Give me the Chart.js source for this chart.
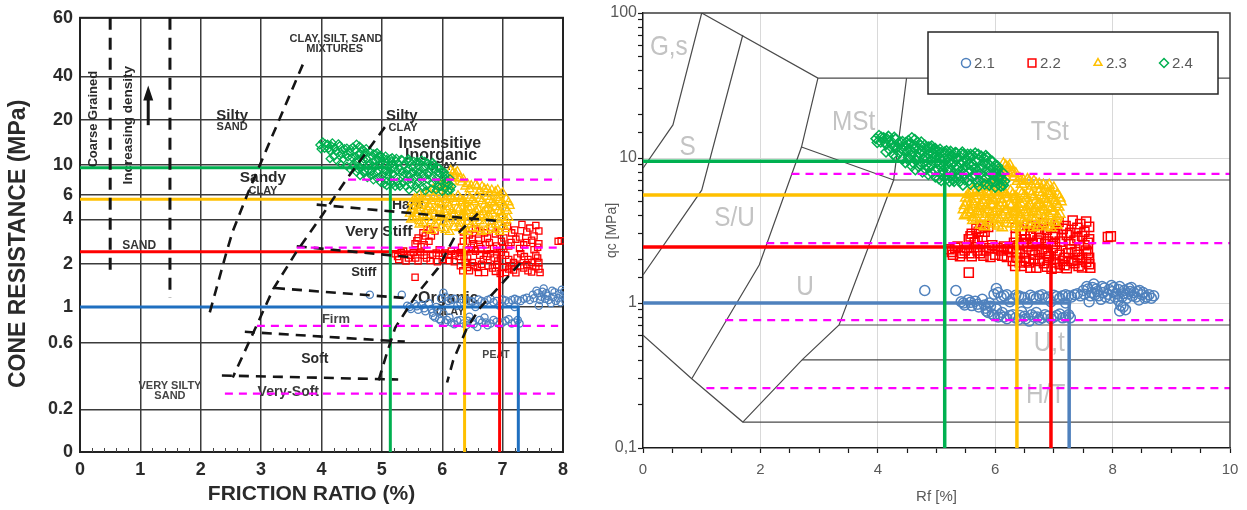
<!DOCTYPE html>
<html lang="en">
<head>
<meta charset="utf-8">
<title>CPT classification – friction ratio vs cone resistance</title>
<script src="https://cdn.jsdelivr.net/npm/chart.js@4.4.1/dist/chart.umd.min.js"></script>
<style>
  html, body { margin: 0; padding: 0; background: #ffffff; }
  #stage { position: relative; width: 1247px; height: 510px; overflow: hidden; background: #ffffff; }
  #leftChart { position: absolute; left: 0; top: 0; }
  #rightChart { position: absolute; left: 600px; top: 0; }
</style>
</head>
<body>
<div id="stage">
  <canvas id="leftChart" width="600" height="510"></canvas>
  <canvas id="rightChart" width="647" height="510"></canvas>
</div>
<script>
// ---------- CPT series: [friction ratio Rf (%), cone resistance qc (MPa)] ----------
const pts21 = [
  [4.80,1.22],[5.33,1.22],
  [5.42,1.02],[5.48,0.97],[5.54,1.05],[5.60,0.96],[5.66,1.03],[5.72,0.94],[5.78,1.06],[5.84,0.92],[5.90,1.00],
  [5.46,1.00],[5.58,1.01],[5.70,0.98],[5.82,0.97],[5.92,0.95],
  [5.85,0.88],[5.95,0.84],[6.02,0.91],[6.05,0.80],[6.12,0.86],[6.20,0.78],[6.30,0.83],[6.40,0.77],[6.45,0.87],
  [6.50,0.81],[6.58,0.75],[6.66,0.80],[6.70,0.86],[6.75,0.77],[6.85,0.83],[6.95,0.78],[7.05,0.82],[7.15,0.79],[7.25,0.83],
  [5.88,0.86],[5.98,0.82],[6.08,0.83],[6.15,0.80],[6.25,0.82],[6.35,0.79],[6.42,0.82],[6.52,0.78],[6.62,0.83],[6.72,0.80],
  [6.80,0.79],[6.90,0.81],[7.00,0.80],[7.10,0.84],[7.20,0.80],[7.28,0.79],
  [5.98,1.15],[6.02,1.26],[6.10,1.10],[6.20,1.14],[6.25,1.02],[6.30,1.07],[6.40,1.12],[6.50,1.09],[6.55,1.00],[6.60,1.13],
  [6.70,1.08],[6.80,1.14],[6.90,1.10],[6.95,1.02],[7.00,1.13],[7.10,1.08],[7.20,1.14],[7.20,1.00],[7.30,1.10],[7.40,1.16],
  [6.05,1.18],[6.15,1.12],[6.35,1.13],[6.45,1.10],[6.65,1.10],[6.75,1.12],[6.85,1.08],[7.05,1.11],[7.15,1.12],[7.25,1.12],
  [7.35,1.14],[7.45,1.12],
  [7.50,1.22],[7.56,1.30],[7.60,1.02],[7.62,1.12],[7.68,1.35],[7.70,1.14],[7.74,1.20],[7.80,1.06],[7.86,1.27],[7.92,1.15],
  [7.98,1.32],[8.00,1.20],[8.04,1.10],[8.10,1.24],[8.10,1.04],[8.14,0.96],[8.18,1.16],[8.22,0.90],[8.28,1.26],[8.30,1.20],
  [8.34,1.12],[8.42,1.20],[8.45,1.05],[8.50,1.14],[8.58,1.10],[8.66,1.08],
  [7.52,1.15],[7.58,1.25],[7.64,1.18],[7.66,1.28],[7.72,1.25],[7.76,1.12],[7.82,1.30],[7.84,1.18],[7.88,1.10],[7.94,1.24],
  [7.96,1.08],[8.02,1.28],[8.06,1.16],[8.12,1.30],[8.16,1.10],[8.20,1.22],[8.24,1.08],[8.26,1.16],[8.32,1.28],[8.36,1.18],
  [8.40,1.10],[8.46,1.22],[8.52,1.18],[8.55,1.08],[8.62,1.14],[8.70,1.12],[8.18,0.94],[8.12,0.88]
];
const pts22 = [
  [5.55,2.75],[5.60,3.00],[5.68,3.25],[5.75,3.45],[5.82,3.10],[5.88,3.35],[5.65,2.62],[5.78,2.85],
  [5.58,2.88],[5.72,3.10],[5.80,3.40],[5.70,2.70],
  [5.22,2.35],[5.28,2.15],[5.36,2.45],[5.44,2.20],[5.52,2.40],[5.60,2.10],[5.70,2.30],[5.80,2.12],[5.90,2.38],
  [5.95,2.50],[6.00,2.15],[6.10,2.30],[6.15,2.45],[6.20,2.08],[6.28,2.25],
  [5.26,2.25],[5.32,2.40],[5.40,2.10],[5.48,2.30],[5.56,2.20],[5.64,2.42],[5.74,2.20],[5.84,2.30],[5.92,2.08],[6.04,2.38],
  [6.12,2.12],[6.22,2.35],
  [5.55,1.62],
  [6.45,3.15],[6.55,3.45],[6.60,3.00],[6.70,3.25],[6.82,3.55],[6.95,3.30],[7.08,3.62],[7.20,3.40],[7.32,3.70],[7.45,3.50],[7.55,3.65],
  [6.35,3.30],[6.50,2.95],[6.62,3.35],[6.75,3.00],[6.88,3.20],[7.02,3.00],[7.15,3.25],[7.28,3.05],[7.40,3.30],[7.52,3.10],[7.60,3.35],
  [6.35,2.85],[6.48,2.60],[6.60,2.90],[6.72,2.70],[6.85,2.55],[6.98,2.85],[7.10,2.65],[7.22,2.95],[7.35,2.70],[7.48,2.90],[7.58,2.60],
  [6.32,2.60],[6.40,2.50],[6.52,2.75],[6.64,2.55],[6.78,2.80],[6.90,2.65],[7.02,2.55],[7.14,2.80],[7.28,2.55],[7.40,2.80],[7.52,2.50],[7.60,2.75],
  [6.30,2.40],[6.42,2.20],[6.55,2.45],[6.68,2.15],[6.80,2.35],[6.92,2.10],[7.05,2.30],[7.18,2.05],[7.30,2.35],[7.42,2.15],[7.55,2.30],[7.60,2.05],
  [6.36,2.25],[6.50,2.05],[6.62,2.30],[6.74,2.25],[6.86,2.20],[6.98,2.40],[7.10,2.15],[7.24,2.20],[7.36,2.25],[7.48,2.05],[7.58,2.20],
  [6.30,1.95],[6.38,2.05],[6.45,1.80],[6.58,1.90],[6.65,2.00],[6.70,1.75],[6.83,1.88],[6.90,1.98],[6.96,1.72],[7.10,1.85],
  [7.15,1.95],[7.22,1.74],[7.35,1.88],[7.40,1.98],[7.48,1.76],[7.60,1.85],
  [6.34,1.80],[6.42,1.90],[6.52,1.95],[6.60,1.75],[6.76,1.95],[6.88,1.78],[7.02,1.90],[7.05,1.75],[7.18,1.82],[7.30,1.95],
  [7.42,1.80],[7.55,1.92],[7.62,1.75],
  [7.92,2.85],[7.97,2.88]
];
const pts23 = [
  [6.14,9.10],[6.18,8.80],[6.22,8.60],[6.27,7.90],[6.17,7.50],[6.32,7.40],[6.12,7.00],[6.38,6.90],
  [6.20,8.20],[6.25,8.90],[6.30,8.00],[6.15,8.00],[6.10,7.60],[6.35,7.80],[6.42,7.20],[6.05,7.30],[6.48,7.00],[5.98,7.10],
  [5.90,6.30],[6.00,6.70],[6.08,6.10],[6.45,6.60],[6.55,7.10],[6.62,6.40],[6.70,6.60],[6.78,6.10],[6.88,6.30],[6.95,5.90],
  [6.58,6.90],[6.66,6.90],[6.75,6.60],[6.82,6.50],[5.85,6.60],[5.78,6.30],[5.70,6.10],[5.62,6.00],[6.92,6.50],[7.00,6.20],
  [5.50,5.30],[5.58,5.70],[5.66,5.20],[5.74,5.80],[5.82,5.40],[5.90,5.60],[5.98,5.10],[6.06,5.50],[6.14,5.80],[6.22,5.30],
  [6.30,5.60],[6.38,5.20],[6.46,5.70],[6.54,5.30],[6.62,5.60],[6.70,5.10],[6.78,5.50],[6.86,5.20],[6.94,5.50],[7.02,5.10],[7.10,5.30],
  [5.54,5.60],[5.60,5.00],[5.70,5.50],[5.78,5.10],[5.86,5.80],[5.94,5.30],[6.02,5.90],[6.10,5.20],[6.18,5.60],[6.26,5.90],
  [6.34,5.40],[6.42,5.90],[6.50,5.50],[6.58,5.90],[6.66,5.40],[6.74,5.80],[6.82,5.30],[6.90,5.70],[6.98,5.30],[7.06,5.60],[7.12,5.00],
  [5.48,4.70],[5.56,4.40],[5.64,4.80],[5.72,4.50],[5.80,4.90],[5.88,4.40],[5.96,4.70],[6.04,4.50],[6.12,4.90],[6.20,4.40],
  [6.28,4.70],[6.36,4.50],[6.44,4.80],[6.52,4.40],[6.60,4.70],[6.68,4.50],[6.76,4.80],[6.84,4.40],[6.92,4.60],[7.00,4.30],[7.08,4.60],
  [5.46,4.40],[5.52,4.90],[5.60,4.60],[5.68,4.30],[5.76,4.70],[5.84,4.60],[5.92,4.80],[6.00,4.30],[6.08,4.70],[6.16,4.60],
  [6.24,4.80],[6.32,4.30],[6.40,4.60],[6.48,4.90],[6.56,4.60],[6.64,4.30],[6.72,4.70],[6.80,4.60],[6.88,4.90],[6.96,4.50],[7.04,4.80],[7.10,4.10],
  [5.52,4.10],[5.62,3.90],[5.72,4.10],[5.82,3.90],[5.92,4.10],[6.02,3.85],[6.12,4.05],[6.22,3.90],[6.32,4.10],[6.42,3.85],
  [6.52,4.05],[6.62,3.90],[6.72,4.10],[6.82,3.85],[6.92,4.00],[7.04,3.80],
  [5.48,4.00],[5.58,4.20],[5.68,3.80],[5.78,4.25],[5.88,3.75],[5.98,4.20],[6.08,3.75],[6.18,4.25],[6.28,3.75],[6.38,4.20],
  [6.48,3.70],[6.58,4.20],[6.68,3.75],[6.78,4.25],[6.88,3.70],[6.98,4.15],[7.06,3.95],
  [5.62,3.70],[5.75,3.45],[5.90,3.60],[6.05,3.40],[6.20,3.55],[6.35,3.35],[6.50,3.50],[6.65,3.30],[6.80,3.50],[6.95,3.30],[7.05,3.45],
  [5.82,3.35],[5.98,3.50],[6.12,3.30],[6.28,3.50],[6.42,3.30],[6.58,3.45],[6.72,3.35],[6.88,3.40],[7.00,3.60]
];
const pts24 = [
  [3.97,13.6],[4.02,14.3],[4.05,12.9],[4.10,13.8],[4.14,12.4],[4.18,14.1],[4.22,13.1],[4.27,12.0],[4.30,13.5],[4.35,12.6],
  [4.40,11.6],[4.42,13.0],[4.47,12.1],[4.50,11.2],
  [3.99,12.8],[4.06,13.9],[4.12,12.9],[4.16,13.5],[4.24,12.4],[4.28,13.9],[4.33,11.8],[4.38,12.9],[4.44,11.3],[4.48,12.8],
  [4.14,11.0],[4.20,11.4],[4.26,10.6],[4.31,10.2],[4.36,10.9],[4.42,9.8],[4.47,9.3],[4.52,9.7],[4.58,8.8],[4.64,8.3],
  [4.70,8.7],[4.76,8.0],[4.82,8.3],[4.86,7.7],[4.92,7.9],[4.98,7.4],[5.04,7.2],[5.08,7.0],[5.14,7.4],[5.22,6.9],[5.28,7.1],
  [4.52,13.2],[4.58,13.8],[4.63,13.4],[4.68,12.8],[4.74,12.9],[4.80,12.3],[4.86,11.9],[4.92,12.1],[4.98,11.6],[5.06,11.5],
  [5.14,11.0],[5.24,11.1],[5.34,10.8],[5.46,10.6],[5.58,10.6],[5.66,10.8],[5.76,10.3],[5.84,10.4],[5.92,9.6],[6.00,8.9],[6.05,8.4],
  [4.55,12.6],[4.58,10.4],[4.60,10.9],[4.62,11.7],[4.65,9.6],[4.70,10.9],[4.73,12.2],[4.77,9.1],[4.80,10.2],[4.84,11.4],
  [4.85,9.9],[4.87,8.6],[4.90,9.7],[4.94,10.8],[4.95,11.5],[4.97,8.2],[5.00,9.3],
  [4.52,10.1],[4.56,11.4],[4.60,9.3],[4.64,12.0],[4.68,10.3],[4.72,9.0],[4.75,11.0],[4.78,9.9],[4.82,8.9],[4.86,10.6],
  [4.89,11.9],[4.92,8.9],[4.96,10.1],[4.99,11.0],[4.70,11.6],[5.00,10.4],
  [5.03,11.1],[5.06,10.0],[5.09,7.6],[5.10,9.6],[5.12,8.8],[5.15,10.6],[5.18,7.2],[5.21,9.4],[5.24,8.1],[5.25,9.0],
  [5.27,10.3],[5.30,6.9],[5.33,8.9],[5.35,8.3],[5.36,9.9],[5.39,7.7],[5.42,10.7],[5.45,8.4],[5.45,9.4],[5.48,7.1],
  [5.51,9.6],[5.54,8.0],[5.55,9.1],[5.57,10.2],[5.60,7.4],[5.63,9.0],[5.66,8.5],[5.69,6.8],[5.70,8.1],[5.72,9.7],
  [5.75,7.8],[5.78,8.8],[5.81,10.0],[5.84,7.3],
  [5.02,8.4],[5.05,9.0],[5.08,10.9],[5.11,8.2],[5.14,9.9],[5.17,11.2],[5.20,8.5],[5.20,10.0],[5.23,10.7],[5.26,7.5],
  [5.29,9.5],[5.32,10.9],[5.35,7.3],[5.38,8.6],[5.40,6.9],[5.41,9.2],[5.44,11.0],[5.47,7.8],[5.50,8.8],[5.53,10.6],
  [5.56,7.0],[5.59,8.2],[5.60,8.8],[5.62,10.4],[5.65,7.7],[5.68,9.4],[5.71,10.6],[5.74,7.0],[5.77,8.4],[5.80,9.3],
  [5.83,8.1],[5.86,10.1],
  [5.45,6.5],[5.58,6.6],[5.72,6.4],[5.82,6.6],[5.90,6.5],[6.00,6.3],
  [5.87,9.2],[5.90,8.0],[5.93,6.9],[5.96,8.6],[5.99,7.5],[6.02,8.2],[6.05,6.6],[6.08,7.7],[6.11,7.1],[6.14,6.5],
  [5.89,7.6],[5.92,8.8],[5.95,9.5],[5.98,6.9],[6.01,7.9],[6.04,8.8],[6.07,7.3],[6.10,6.4],[6.13,7.9],[6.16,6.9]
];

const seriesNames = ['2.1', '2.2', '2.3', '2.4'];
const seriesMeanRf = [7.26, 6.95, 6.37, 5.14];
const seriesMeanQc = [1.0, 2.43, 5.56, 9.5];

// consistency limits (qc, MPa) and the Rf where each dashed limit starts on each chart
const limitQc = [7.76, 2.59, 0.763, 0.259];
const limitStartRfLeft = [4.44, 3.59, 2.93, 2.40];
const limitStartRfRight = [2.53, 2.10, 1.40, 1.08];

// left chart (Schmertmann) qc axis values
const leftQcTicks = [0, 0.2, 0.6, 1, 2, 4, 6, 10, 20, 40, 60];

// Schmertmann soil boundaries, [Rf, qc]
const schmMixtures = [[3.69,43.4],[2.98,10],[2.77,6],[2.53,3.33],[2.43,2.44],[2.12,0.844]];
const schmSiltyClay = [[5.05,17.95],[4.42,7.88],[4.02,4.34],[3.59,2.44],[3.20,1.337],[2.87,0.691],[2.53,0.338]];
const schmOrganic = [[6.59,4.41],[6.21,3.08],[5.93,1.875],[5.58,1.233],[5.22,0.742],[5.08,0.50],[4.92,0.296]];
const schmPeat = [[7.29,2.03],[6.63,0.99],[6.41,0.742],[6.18,0.446],[6.08,0.311]];
const schmHard = [[3.92,5.1],[6.95,3.9]];
const schmVeryStiff = [[3.59,2.64],[5.47,2.23]];
const schmStiff = [[3.23,1.358],[5.38,1.156]];
const schmFirm = [[2.73,0.701],[5.38,0.609]];
const schmSoft = [[2.35,0.349],[5.27,0.327]];
const schmDensityA = [[0.50,60],[0.50,1.79]];
const schmDensityB = [[1.49,60],[1.49,1.156]];
const densityArrow = [1.13, 18.5, 34.7];   // Rf, qc from, qc to

// right chart soil-type zone boundaries, [Rf, qc]
const zoneA = [[0,8.5],[0.51,16.9],[1.0,100]];
const zoneB = [[0,1.56],[1.0,6.0],[1.7,70.5]];
const zoneC = [[1.0,100],[2.98,35.6],[10,35.6]];
const zoneD = [[2.98,35.6],[2.7,11.9],[1.98,1.83],[0.83,0.30]];
const zoneE = [[0,0.60],[0.83,0.30],[1.7,0.151],[10,0.151]];
const zoneF = [[2.7,11.9],[4.27,7.05],[10,7.05]];
const zoneG = [[4.49,35.6],[4.27,7.05],[3.34,0.705],[2.71,0.405],[1.7,0.151]];
const zoneH = [[3.34,0.705],[10,0.705]];
const zoneI = [[2.71,0.405],[10,0.405]];

const zoneNames = ['G,s', 'S', 'S/U', 'MSt', 'TSt', 'U', 'U,t', 'H/T'];
const zoneNameAt = [[0.44,58.3],[0.76,11.9],[1.56,3.86],[3.59,17.7],[6.93,15.1],[2.76,1.29],[6.92,0.53],[6.86,0.232]];

// ---------- styling ----------
const FONT = "'Liberation Sans', Arial, Helvetica, sans-serif";
Chart.defaults.font.family = FONT;
const markerStyles = ['circle', 'rect', 'triangle', 'rectRot'];
const markerColors = ['#4F81BD', '#FF0000', '#FFC000', '#00B050'];
const leftLineColors = ['#1F6FC0', '#FF0000', '#FFC000', '#00B050'];
const rightLineColors = ['#4F81BD', '#FF0000', '#FFC000', '#00B050'];
const leftMarkerRadius = [3.6, 4.4, 5, 3.8];
const rightMarkerRadius = [5, 6.4, 6, 5];
// where each qc value sits along the left axis (fraction of its height)
const leftQcTickPos = [0, 0.0984, 0.2517, 0.3341, 0.4325, 0.5355, 0.5927, 0.6613, 0.7643, 0.8650, 1];

const leftNotes = [
  { text: 'CLAY, SILT, SAND', rf: 4.24, qc: 51.9, font: 'bold 11px', color: '#333' },
  { text: 'MIXTURES', rf: 4.22, qc: 48.2, font: 'bold 11px', color: '#333' },
  { text: 'Silty', rf: 2.52, qc: 21.3, font: 'bold 15px', color: '#2a2a2a' },
  { text: 'SAND', rf: 2.52, qc: 17.95, font: 'bold 11px', color: '#333' },
  { text: 'Silty', rf: 5.33, qc: 21.3, font: 'bold 15px', color: '#2a2a2a' },
  { text: 'CLAY', rf: 5.35, qc: 17.7, font: 'bold 11px', color: '#333' },
  { text: 'Insensitive', rf: 5.96, qc: 13.8, font: 'bold 16px', color: '#2a2a2a' },
  { text: 'Inorganic', rf: 5.98, qc: 11.5, font: 'bold 16px', color: '#2a2a2a' },
  { text: 'CLAY', rf: 6.0, qc: 9.67, font: 'bold 11px', color: '#333' },
  { text: 'Sandy', rf: 3.03, qc: 8.02, font: 'bold 15.5px', color: '#2a2a2a' },
  { text: 'CLAY', rf: 3.03, qc: 6.42, font: 'bold 11px', color: '#333' },
  { text: 'Hard', rf: 5.43, qc: 5.02, font: 'bold 14px', color: '#2a2a2a' },
  { text: 'Very Stiff', rf: 4.95, qc: 3.33, font: 'bold 15.5px', color: '#2a2a2a' },
  { text: 'SAND', rf: 0.98, qc: 2.68, font: 'bold 12px', color: '#333' },
  { text: 'Stiff', rf: 4.70, qc: 1.758, font: 'bold 13px', color: '#2a2a2a' },
  { text: 'Firm', rf: 4.24, qc: 0.832, font: 'bold 13px', color: '#444' },
  { text: 'Soft', rf: 3.89, qc: 0.461, font: 'bold 14px', color: '#2a2a2a' },
  { text: 'Very-Soft', rf: 3.45, qc: 0.264, font: 'bold 14px', color: '#3a3a3a' },
  { text: 'VERY SILTY', rf: 1.49, qc: 0.292, font: 'bold 11px', color: '#444' },
  { text: 'SAND', rf: 1.49, qc: 0.248, font: 'bold 11px', color: '#444' },
  { text: 'Organic', rf: 6.10, qc: 1.138, font: 'bold 16px', color: '#2a2a2a' },
  { text: 'CLAY', rf: 6.13, qc: 0.932, font: 'bold 11px', color: '#333' },
  { text: 'PEAT', rf: 6.89, qc: 0.493, font: 'bold 10.5px', color: '#444' },
  { text: 'Coarse Grained', rf: 0.215, qc: 20.3, font: 'bold 13px', color: '#2a2a2a', vertical: true },
  { text: 'Increasing density', rf: 0.795, qc: 18.5, font: 'bold 13.5px', color: '#2a2a2a', vertical: true }
];

// ---------- helpers ----------
const isWhole = v => Math.abs(v - Math.round(v)) < 1e-6;
const isEven = v => isWhole(v) && Math.round(v) % 2 === 0;
const isDecade = v => { const l = Math.log10(v); return Math.abs(l - Math.round(l)) < 1e-6; };
const xy = pairs => pairs.map(p => ({ x: p[0], y: p[1] }));

function markerSets(radii, width, clip) {
  return [pts21, pts22, pts23, pts24].map((pts, i) => ({
    label: seriesNames[i],
    data: xy(pts),
    showLine: false,
    pointStyle: markerStyles[i],
    pointRadius: radii[i],
    pointBorderWidth: width,
    pointBorderColor: markerColors[i],
    pointBackgroundColor: 'rgba(0,0,0,0)',
    clip: clip,
    order: 33 - i
  }));
}
function meanSets(bottom, colors, width) {
  return seriesMeanRf.map((rf, i) => ({
    data: [{ x: 0, y: seriesMeanQc[i] }, { x: rf, y: seriesMeanQc[i] }, { x: rf, y: bottom }],
    showLine: true, borderColor: colors[i], borderWidth: width, borderJoinStyle: 'miter',
    pointRadius: 0, order: 20 - i
  }));
}
function limitSets(fromRf, toRf) {
  return limitQc.map((q, i) => ({
    data: [{ x: fromRf[i], y: q }, { x: toRf, y: q }],
    showLine: true, borderColor: '#FF00FF', borderWidth: 2.2, borderDash: [8, 6],
    pointRadius: 0, order: 5
  }));
}
function polySets(list, color, width, dash, order) {
  return list.map(pl => ({
    data: xy(pl), showLine: true, borderColor: color, borderWidth: width,
    borderDash: dash, pointRadius: 0, order: order
  }));
}

// qc axis of the Schmertmann chart: value bands placed at fixed heights,
// log-interpolated inside each band (linear in the 0 – 0.2 band)
const BaseLinear = Chart.LinearScale || Chart.registry.getScale('linear');
class BandedScale extends BaseLinear {
  buildTicks() { return leftQcTicks.map(v => ({ value: v })); }
  bandDecimal(v) {
    const t = leftQcTicks, p = leftQcTickPos;
    if (v <= t[0]) return p[0];
    for (let i = 1; i < t.length; i++) {
      if (v <= t[i]) {
        const a = t[i - 1], b = t[i];
        const f = a > 0 ? Math.log(v / a) / Math.log(b / a) : (v - a) / (b - a);
        return p[i - 1] + f * (p[i] - p[i - 1]);
      }
    }
    return p[p.length - 1];
  }
  getPixelForValue(v) {
    return v === null || v === undefined ? NaN : this.getPixelForDecimal(this.bandDecimal(v));
  }
  getValueForPixel(px) {
    const d = this.getDecimalForPixel(px);
    const t = leftQcTicks, p = leftQcTickPos;
    for (let i = 1; i < t.length; i++) {
      if (d <= p[i]) {
        const f = (d - p[i - 1]) / (p[i] - p[i - 1]);
        const a = t[i - 1], b = t[i];
        return a > 0 ? a * Math.pow(b / a, f) : a + f * (b - a);
      }
    }
    return t[t.length - 1];
  }
}
BandedScale.id = 'banded';
Chart.register(BandedScale);

// ---------- left chart: Schmertmann classification ----------
const leftDecor = {
  id: 'leftDecor',
  beforeDatasetsDraw(chart) {
    const { ctx, chartArea: a, scales: { x, y } } = chart;
    ctx.save();
    ctx.strokeStyle = '#222';
    ctx.lineWidth = 2;
    ctx.strokeRect(a.left, a.top, a.right - a.left, a.bottom - a.top);
    ctx.textAlign = 'center';
    ctx.textBaseline = 'middle';
    leftNotes.forEach(n => {
      ctx.save();
      ctx.translate(x.getPixelForValue(n.rf), y.getPixelForValue(n.qc));
      if (n.vertical) ctx.rotate(-Math.PI / 2);
      ctx.font = n.font + ' ' + FONT;
      ctx.fillStyle = n.color;
      ctx.fillText(n.text, 0, 0);
      ctx.restore();
    });
    // density arrow
    const ax = x.getPixelForValue(densityArrow[0]);
    const y0 = y.getPixelForValue(densityArrow[1]);
    const y1 = y.getPixelForValue(densityArrow[2]);
    ctx.strokeStyle = '#151515';
    ctx.fillStyle = '#151515';
    ctx.lineWidth = 3;
    ctx.beginPath(); ctx.moveTo(ax, y0); ctx.lineTo(ax, y1 + 10); ctx.stroke();
    ctx.beginPath(); ctx.moveTo(ax, y1); ctx.lineTo(ax - 5, y1 + 15); ctx.lineTo(ax + 5, y1 + 15); ctx.closePath(); ctx.fill();
    ctx.restore();
  },
  afterDraw(chart) {
    const { ctx, chartArea: a, scales: { x } } = chart;
    ctx.save();
    // minor friction-ratio marks along the base line
    ctx.strokeStyle = '#444';
    ctx.lineWidth = 1;
    x.ticks.forEach(t => {
      if (isWhole(t.value)) return;
      const px = Math.round(x.getPixelForValue(t.value)) + 0.5;
      ctx.beginPath(); ctx.moveTo(px, a.bottom); ctx.lineTo(px, a.bottom - 4); ctx.stroke();
    });
    // axis titles
    ctx.fillStyle = '#2a2a2a';
    ctx.textAlign = 'center';
    ctx.textBaseline = 'middle';
    ctx.font = 'bold 21px ' + FONT;
    ctx.fillText('FRICTION RATIO (%)', (a.left + a.right) / 2 - 10, a.bottom + 42);
    ctx.translate(a.left - 61, (a.top + a.bottom) / 2 + 9);
    ctx.rotate(-Math.PI / 2);
    ctx.font = 'bold 23px ' + FONT;
    ctx.fillText('CONE RESISTANCE (MPa)', 0, 0);
    ctx.restore();
  }
};

new Chart(document.getElementById('leftChart'), {
  type: 'scatter',
  data: {
    datasets: [
      ...markerSets(leftMarkerRadius, 1.3, 1),
      ...polySets([schmMixtures, schmSiltyClay, schmOrganic, schmPeat, schmHard, schmVeryStiff,
                   schmStiff, schmFirm, schmSoft], '#151515', 2.6, [10, 7], 15),
      ...polySets([schmDensityA, schmDensityB], '#151515', 3, [12, 8], 15),
      ...meanSets(0, leftLineColors, 3),
      ...limitSets(limitStartRfLeft, 7.92)
    ]
  },
  options: {
    responsive: false,
    animation: false,
    events: [],
    layout: { padding: { top: 15, right: 37, bottom: 0, left: 0 } },
    plugins: { legend: { display: false }, tooltip: { enabled: false } },
    scales: {
      x: {
        type: 'linear', min: 0, max: 8,
        afterFit: s => { s.height = 58; },
        border: { display: false },
        grid: {
          color: c => (c.tick && isWhole(c.tick.value)) ? '#3b3b3b' : 'rgba(0,0,0,0)',
          lineWidth: 1.5, drawTicks: false
        },
        ticks: {
          stepSize: 0.2, autoSkip: false, maxRotation: 0, padding: 7, color: '#2a2a2a',
          font: { family: FONT, size: 18, weight: 'bold' },
          callback: v => isWhole(v) ? String(Math.round(v)) : ''
        }
      },
      y: {
        type: 'banded', min: 0, max: 60,
        afterFit: s => { s.width = 80; },
        border: { display: false },
        grid: { color: '#3b3b3b', lineWidth: 1.5, drawTicks: false },
        ticks: {
          autoSkip: false, padding: 7, color: '#2a2a2a',
          font: { family: FONT, size: 18, weight: 'bold' },
          callback: v => String(v)
        }
      }
    }
  },
  plugins: [leftDecor]
});

// ---------- right chart: soil-type zones ----------
const rightDecor = {
  id: 'rightDecor',
  beforeDatasetsDraw(chart) {
    const { ctx, scales: { x, y } } = chart;
    ctx.save();
    ctx.fillStyle = '#C3C3C3';
    ctx.font = '28px ' + FONT;
    ctx.textAlign = 'center';
    ctx.textBaseline = 'middle';
    zoneNames.forEach((name, i) => {
      ctx.save();
      ctx.translate(x.getPixelForValue(zoneNameAt[i][0]), y.getPixelForValue(zoneNameAt[i][1]));
      ctx.scale(0.87, 1);
      ctx.fillText(name, 0, 0);
      ctx.restore();
    });
    ctx.restore();
  },
  afterDatasetsDraw(chart) {
    const { ctx, chartArea: a } = chart;
    ctx.save();
    ctx.strokeStyle = '#3c3c3c';
    ctx.lineWidth = 1.5;
    ctx.beginPath();
    ctx.moveTo(a.left, a.top); ctx.lineTo(a.right, a.top); ctx.lineTo(a.right, a.bottom);
    ctx.stroke();
    // legend box
    const bx = a.right - 302, by = a.top + 19, bw = 290, bh = 62;
    ctx.fillStyle = '#ffffff';
    ctx.fillRect(bx, by, bw, bh);
    ctx.strokeStyle = '#262626';
    ctx.lineWidth = 1.5;
    ctx.strokeRect(bx, by, bw, bh);
    ctx.font = '15px ' + FONT;
    ctx.textAlign = 'left';
    ctx.textBaseline = 'middle';
    seriesNames.forEach((name, i) => {
      const mx = bx + 38 + i * 66, my = by + 31;
      ctx.strokeStyle = markerColors[i];
      ctx.fillStyle = '#ffffff';
      ctx.lineWidth = 1.5;
      Chart.helpers.drawPoint(ctx, { pointStyle: markerStyles[i], radius: i === 1 ? 5.5 : 4.5, borderWidth: 1.5, rotation: 0 }, mx, my);
      ctx.fillStyle = '#595959';
      ctx.fillText(name, mx + 8, my + 1);
    });
    ctx.restore();
  }
};

new Chart(document.getElementById('rightChart'), {
  type: 'scatter',
  data: {
    datasets: [
      ...polySets([zoneA, zoneB, zoneC, zoneD, zoneE, zoneF, zoneG, zoneH, zoneI], '#4a4a4a', 1.2, [], 40),
      ...markerSets(rightMarkerRadius, 1.5, undefined),
      ...meanSets(0.1, rightLineColors, 3.5),
      ...limitSets(limitStartRfRight, 10)
    ]
  },
  options: {
    responsive: false,
    animation: false,
    events: [],
    layout: { padding: { top: 13, right: 17, bottom: 0, left: 0 } },
    plugins: { legend: { display: false }, tooltip: { enabled: false } },
    scales: {
      x: {
        type: 'linear', min: 0, max: 10,
        afterFit: s => { s.height = 62; },
        border: { color: '#1a1a1a', width: 1.5 },
        grid: {
          color: c => (c.tick && isEven(c.tick.value) && c.tick.value > 0 && c.tick.value < 10) ? '#D9D9D9' : 'rgba(0,0,0,0)',
          lineWidth: 1, tickColor: '#1a1a1a', tickLength: 5, tickWidth: 1.2
        },
        ticks: {
          stepSize: 0.5, autoSkip: false, maxRotation: 0, padding: 8, color: '#595959',
          font: { family: FONT, size: 15 },
          callback: v => isEven(v) ? String(Math.round(v)) : ''
        },
        title: { display: true, text: 'Rf [%]', color: '#595959', font: { family: FONT, size: 15 }, padding: { top: 0, bottom: 4 } }
      },
      y: {
        type: 'logarithmic', min: 0.1, max: 100,
        afterFit: s => { s.width = 43; },
        border: { color: '#1a1a1a', width: 1.5 },
        grid: {
          color: c => (c.tick && isDecade(c.tick.value) && c.tick.value > 0.1 && c.tick.value < 100) ? '#D9D9D9' : 'rgba(0,0,0,0)',
          lineWidth: 1, tickColor: '#1a1a1a', tickLength: 5, tickWidth: 1.2
        },
        ticks: {
          autoSkip: false, padding: 1, color: '#595959',
          font: { family: FONT, size: 16 },
          callback: v => isDecade(v) ? String(v).replace('.', ',') : ''
        },
        title: { display: true, text: 'qc [MPa]', color: '#595959', font: { family: FONT, size: 14 }, padding: { top: 4, bottom: 0 } }
      }
    }
  },
  plugins: [rightDecor]
});
</script>
</body>
</html>
